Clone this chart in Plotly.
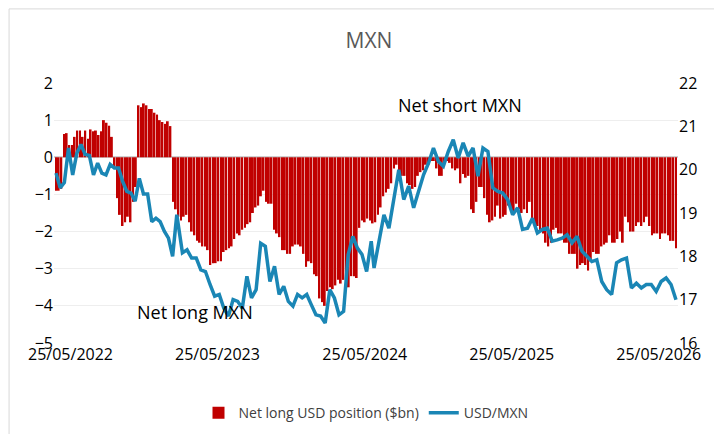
import pandas as pd
import plotly.graph_objects as go

# Net long USD position vs MXN ($bn), weekly
net_usd = [
    -0.9, -0.9, -0.85, 0.63, 0.65, 0.33, 0.33, 0.55, 0.72, 0.72, 0.55, 0.72, 0.5, 0.75, 0.7,
    0.72, 0.6, 0.7, 1.0, 0.93, 0.85, 0.55,
    -0.3, -1.1, -1.55, -1.85, -1.75, -1.6, -1.75, -1.2, -0.8,
    1.4, 1.35, 1.45, 1.4, 1.3, 1.3, 1.2, 1.15, 1.0, 0.95, 0.9, 0.97, 0.84,
    -1.2, -1.4, -1.6, -1.7, -1.6, -1.55, -1.75, -2.0, -2.1, -2.25, -2.3, -2.4, -2.4, -2.5,
    -2.9, -2.85, -2.85, -2.8, -2.8, -2.55, -2.5, -2.45, -2.4, -2.2, -2.05, -2.1, -1.95, -1.9,
    -1.8, -1.75, -1.5, -1.35, -1.3, -1.05, -0.9, -1.2, -1.25, -1.25, -1.95, -2.05, -2.15,
    -2.5, -2.5, -2.6, -2.6, -2.4, -2.35, -2.35, -2.4, -2.6, -2.95, -2.8, -2.85, -3.15, -3.2,
    -3.8, -3.9, -4.0, -3.6, -3.5, -3.55, -3.45, -3.3, -3.4, -3.3, -3.1, -3.5, -3.2, -3.2,
    -3.25, -1.9, -1.7, -1.75, -1.65, -1.7, -1.78,
    -1.75, -1.55, -1.35, -1.05, -0.95, -0.85, -0.7, -0.3, -0.2, -0.35, -0.5, -0.5, -0.7,
    -0.75, -0.85, -0.8, -0.5, -0.4, -0.35, -0.2, -0.2, -0.1, -0.1, -0.3, -0.5, -0.5, -0.15,
    -0.1, -0.15, -0.3, -0.35, -0.3, -0.7, -0.45, -0.55, -0.5, -1.4, -1.5, -1.2, -0.8, -0.8,
    -1.1, -1.55, -1.75, -1.7, -1.6, -1.3, -1.65, -1.6, -1.55, -1.3, -1.4, -1.5, -1.25, -1.4,
    -1.5, -1.4, -1.5, -1.2, -1.7, -1.8, -1.85, -2.0, -2.05, -2.3, -2.4, -2.3, -1.95, -1.9,
    -2.05, -2.05, -2.3, -2.3, -2.6, -2.6, -2.6, -3.0, -2.9, -2.85, -2.9, -3.05, -2.8, -2.55,
    -2.6, -2.6, -2.4, -2.35, -2.3, -2.1, -2.3, -2.3, -2.2, -2.0, -2.3, -1.6, -1.75, -2.0,
    -2.0, -1.85, -1.75, -1.85, -1.75, -1.6, -1.85, -2.1, -2.05, -2.05, -2.2, -2.05, -2.05,
    -2.1, -2.25, -2.25, -2.45,
]

# USD/MXN spot, in three stretches (sampled at different densities)
usdmxn_a = [  # 2022-04-19 .. 2023-02-13
    19.92, 19.58, 19.7, 20.5, 19.88, 20.38, 20.58, 20.35, 20.33, 19.88, 20.15, 19.92, 19.88,
    20.12, 20.04, 20.04, 19.73, 19.5, 19.46, 19.27, 19.8, 19.44, 19.44, 18.8, 18.88, 18.8,
    18.58, 18.42, 18.0, 18.96,
]
usdmxn_b = [  # 2023-02-27 .. 2024-06-10
    18.08, 18.15, 17.96, 17.96, 17.69, 17.65, 17.35, 17.08, 17.12,
    16.8, 16.62, 17.0, 16.96, 16.8, 17.54, 17.04, 17.23, 18.3, 18.23, 17.42, 17.77, 17.12,
    17.31, 16.96, 16.85, 17.12, 17.04, 17.12, 16.88, 16.65, 16.62, 16.46, 17.23, 17.04, 16.65,
    16.73, 18.04, 18.46, 18.19, 18.04, 17.65, 18.35,
]
usdmxn_c = [  # 2024-06-17 .. 2026-07-07
    17.73, 18.35, 18.96, 18.65, 19.27, 20.0,
    19.31, 19.62, 19.12, 19.5, 19.88, 20.15, 20.5, 20.19, 20.08, 20.42, 20.69, 20.27, 20.62,
    20.31, 20.5, 19.85, 20.5, 20.42, 19.58, 19.5, 19.46, 19.31, 18.96, 19.12, 18.62, 18.65,
    18.88, 18.54, 18.62, 18.65, 18.35, 18.38, 18.42, 18.5, 18.31, 18.46, 18.12, 18.0, 17.88,
    17.92, 17.42, 17.23, 17.12, 17.85, 17.92, 17.96, 17.27, 17.38, 17.27, 17.35, 17.35, 17.19,
    17.42, 17.5, 17.35, 17.0,
]

tick_dates = ["2022-05-25", "2023-05-25", "2024-05-25", "2025-05-25", "2026-05-25"]
tick_text = ["25/05/2022", "25/05/2023", "25/05/2024", "25/05/2025", "25/05/2026"]

start, end = pd.Timestamp("2022-04-19"), pd.Timestamp("2026-07-07")
bar_dates = pd.date_range(start, end, periods=len(net_usd))
line_dates = (list(pd.date_range(start, "2023-02-13", periods=len(usdmxn_a)))
              + list(pd.date_range("2023-02-27", "2024-06-10", periods=len(usdmxn_b)))
              + list(pd.date_range("2024-06-17", end, periods=len(usdmxn_c))))
usdmxn = usdmxn_a + usdmxn_b + usdmxn_c

font = "Open Sans"
fig = go.Figure()
fig.add_trace(go.Bar(x=bar_dates, y=net_usd, marker_color="#C00000", marker_line_width=0,
                     name="Net long USD position ($bn)"))
fig.add_trace(go.Scatter(x=line_dates, y=usdmxn, yaxis="y2", mode="lines",
                         line=dict(color="#1A86B5", width=3.5), name="USD/MXN"))

fig.update_layout(
    width=722, height=434,
    margin=dict(l=46, r=52, t=75, b=99, autoexpand=False),
    paper_bgcolor="white", plot_bgcolor="white",
    font=dict(family=font, size=16, color="black"),
    title=dict(text="MXN", x=0.5, xanchor="center", y=0.925, yanchor="middle",
               font=dict(size=21, color="#595959")),
    bargap=0.3,
    xaxis=dict(type="date", range=["2022-04-14", "2026-07-12"], tickvals=tick_dates,
               ticktext=tick_text, showgrid=False, ticks="", tickfont=dict(size=16)),
    yaxis=dict(range=[-5, 2], dtick=1, showgrid=True, gridcolor="#EEEEEE",
               zeroline=True, zerolinecolor="#D0D0D0", zerolinewidth=2, ticks=""),
    yaxis2=dict(range=[16, 22], dtick=1, overlaying="y", side="right", showgrid=False,
                zeroline=False, ticks=""),
    legend=dict(orientation="h", x=0.5, xanchor="center", y=-0.27, yanchor="middle",
                font=dict(size=14, color="#404040")),
    shapes=[dict(type="rect", xref="paper", yref="paper", x0=-0.072, x1=1.081, y0=-0.378,
                 y1=1.285, line=dict(color="#D9D9D9", width=1))],
    annotations=[
        dict(text="Net short MXN", xref="paper", yref="paper", x=0.65, y=0.97,
             showarrow=False, font=dict(size=18, color="black")),
        dict(text="Net long MXN", xref="paper", yref="paper", x=0.13, y=0.065,
             showarrow=False, font=dict(size=18, color="black")),
    ],
)
fig.write_html("out.html")
